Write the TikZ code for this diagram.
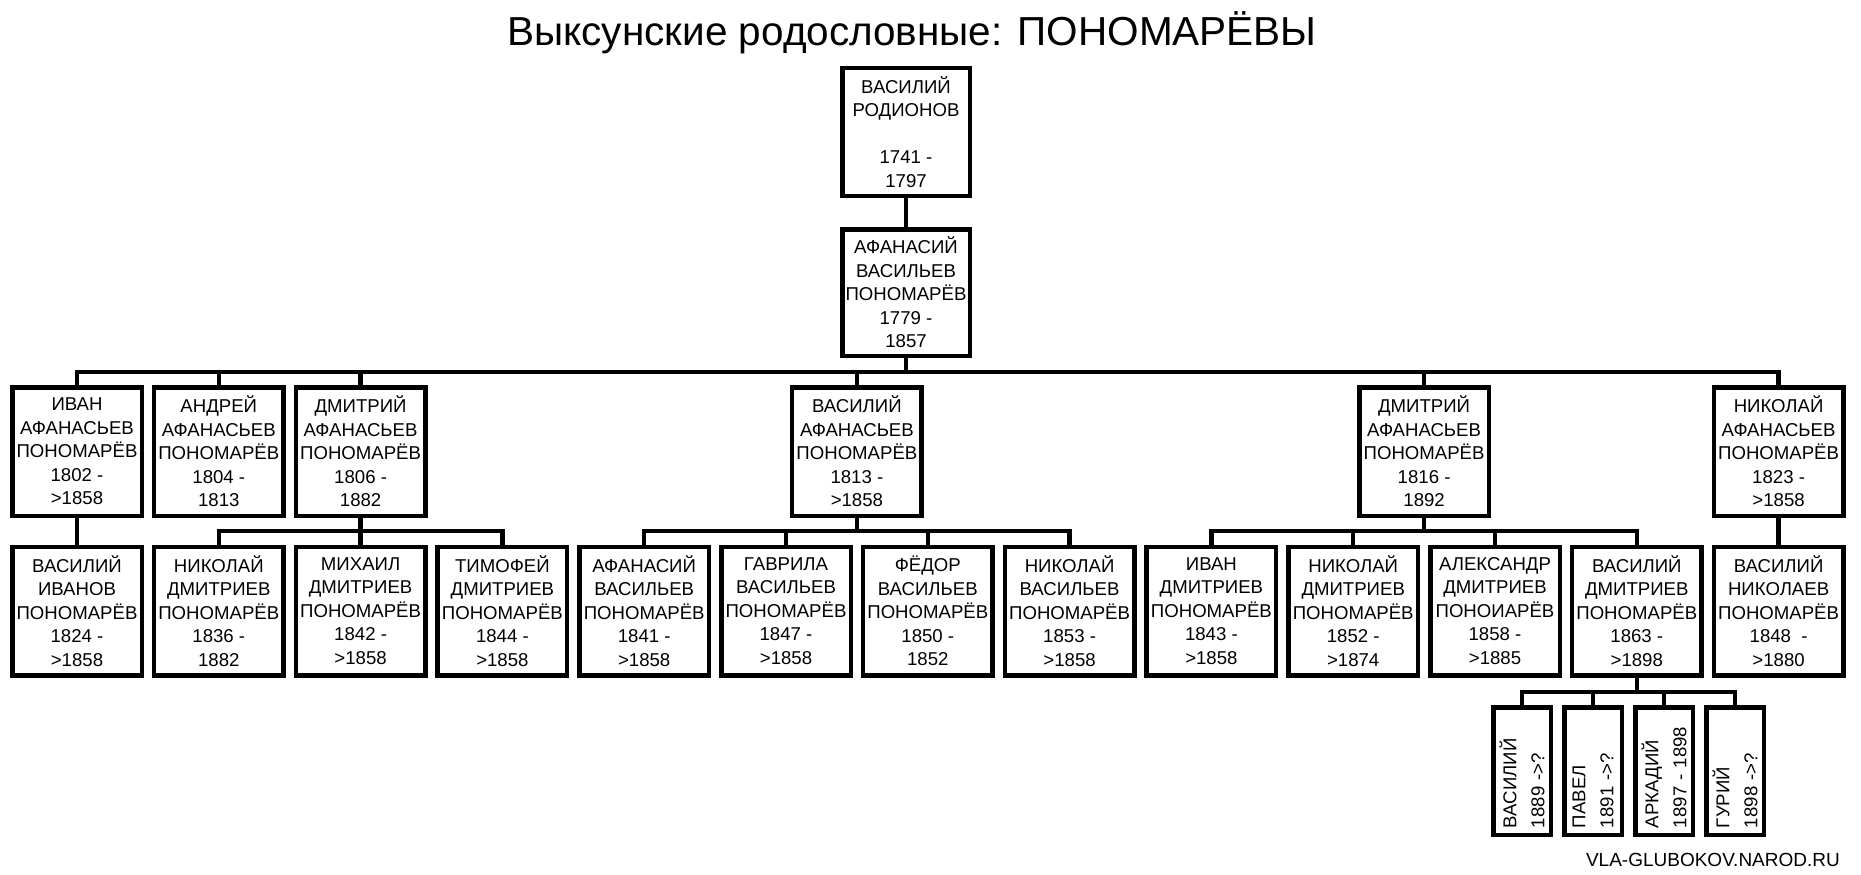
\documentclass[tikz,border=0pt]{standalone}
\usepackage{fontspec}
\setmainfont{Liberation Sans}
\begin{document}
\begin{tikzpicture}[x=1pt,y=-1pt,
  pbox/.style={draw, line width=4.5pt, minimum width=129.5pt, minimum height=128.5pt,
    inner sep=0pt, align=center, font=\fontsize{18.6}{23.5}\selectfont},
  kid/.style={draw, line width=4.5pt, rotate=90, text width=114pt, inner xsep=6.75pt,
    inner ysep=0pt, minimum height=57.5pt, align=left, font=\fontsize{18.6}{28}\selectfont},
  conn/.style={line width=4.5pt, line join=miter}]
\fill[white] (0,0) rectangle (1861,875);
\useasboundingbox (0,0) rectangle (1861,875);

\node[anchor=base, inner sep=0pt, font=\fontsize{40.5}{48}\selectfont] (title) at (912,46) {Выксунские родословные: ПОНОМАРЁВЫ};
\node[anchor=base east, inner sep=0pt, font=\fontsize{19}{22}\selectfont] (wm) at (1840,866) {VLA-GLUBOKOV.NAROD.RU};

% generation 0 and 1
\node[pbox, minimum width=127.5pt, minimum height=127.5pt] (r) at (906,132) {ВАСИЛИЙ\\РОДИОНОВ\\\mbox{}\\1741 -\\1797};
\node[pbox, minimum width=127.5pt, minimum height=126.5pt] (g1) at (906,292.5) {АФАНАСИЙ\\ВАСИЛЬЕВ\\ПОНОМАРЁВ\\1779 -\\1857};

% generation 2
\node[pbox] (a1) at (77,451.5) {ИВАН\\АФАНАСЬЕВ\\ПОНОМАРЁВ\\1802 -\\>1858};
\node[pbox] (a2) at (218.8,451.5) {АНДРЕЙ\\АФАНАСЬЕВ\\ПОНОМАРЁВ\\1804 -\\1813};
\node[pbox] (a3) at (360.6,451.5) {ДМИТРИЙ\\АФАНАСЬЕВ\\ПОНОМАРЁВ\\1806 -\\1882};
\node[pbox] (a4) at (856.9,451.5) {ВАСИЛИЙ\\АФАНАСЬЕВ\\ПОНОМАРЁВ\\1813 -\\>1858};
\node[pbox] (a5) at (1424.1,451.5) {ДМИТРИЙ\\АФАНАСЬЕВ\\ПОНОМАРЁВ\\1816 -\\1892};
\node[pbox] (a6) at (1778.6,451.5) {НИКОЛАЙ\\АФАНАСЬЕВ\\ПОНОМАРЁВ\\1823 -\\>1858};

% generation 3
\node[pbox] (b0) at (77,611) {ВАСИЛИЙ\\ИВАНОВ\\ПОНОМАРЁВ\\1824 -\\>1858};
\node[pbox] (b1) at (218.8,611) {НИКОЛАЙ\\ДМИТРИЕВ\\ПОНОМАРЁВ\\1836 -\\1882};
\node[pbox] (b2) at (360.6,611) {МИХАИЛ\\ДМИТРИЕВ\\ПОНОМАРЁВ\\1842 -\\>1858};
\node[pbox] (b3) at (502.4,611) {ТИМОФЕЙ\\ДМИТРИЕВ\\ПОНОМАРЁВ\\1844 -\\>1858};
\node[pbox] (b4) at (644.2,611) {АФАНАСИЙ\\ВАСИЛЬЕВ\\ПОНОМАРЁВ\\1841 -\\>1858};
\node[pbox] (b5) at (786,611) {ГАВРИЛА\\ВАСИЛЬЕВ\\ПОНОМАРЁВ\\1847 -\\>1858};
\node[pbox] (b6) at (927.8,611) {ФЁДОР\\ВАСИЛЬЕВ\\ПОНОМАРЁВ\\1850 -\\1852};
\node[pbox] (b7) at (1069.6,611) {НИКОЛАЙ\\ВАСИЛЬЕВ\\ПОНОМАРЁВ\\1853 -\\>1858};
\node[pbox] (b8) at (1211.4,611) {ИВАН\\ДМИТРИЕВ\\ПОНОМАРЁВ\\1843 -\\>1858};
\node[pbox] (b9) at (1353.2,611) {НИКОЛАЙ\\ДМИТРИЕВ\\ПОНОМАРЁВ\\1852 -\\>1874};
\node[pbox] (b10) at (1495,611) {АЛЕКСАНДР\\ДМИТРИЕВ\\ПОНОИАРЁВ\\1858 -\\>1885};
\node[pbox] (b11) at (1636.8,611) {ВАСИЛИЙ\\ДМИТРИЕВ\\ПОНОМАРЁВ\\1863 -\\>1898};
\node[pbox] (b12) at (1778.6,611) {ВАСИЛИЙ\\НИКОЛАЕВ\\ПОНОМАРЁВ\\1848 \ -\\>1880};

% generation 4
\node[kid] (d1) at (1522,771) {ВАСИЛИЙ\\1889 ->?};
\node[kid] (d2) at (1593,771) {ПАВЕЛ\\1891 ->?};
\node[kid] (d3) at (1664,771) {АРКАДИЙ\\1897 - 1898};
\node[kid] (d4) at (1735,771) {ГУРИЙ\\1898 ->?};

% connectors
\draw[conn] (r.south) -- (g1.north);
\foreach \c in {a1,a2,a3,a4,a5,a6}
  \draw[conn] (g1.south) -- (g1.south |- 0,372) -| (\c.north);
\draw[conn] (a1.south) -- (b0.north);
\foreach \c in {b1,b2,b3}
  \draw[conn] (a3.south) -- (a3.south |- 0,531) -| (\c.north);
\foreach \c in {b4,b5,b6,b7}
  \draw[conn] (a4.south) -- (a4.south |- 0,531) -| (\c.north);
\foreach \c in {b8,b9,b10,b11}
  \draw[conn] (a5.south) -- (a5.south |- 0,531) -| (\c.north);
\draw[conn] (a6.south) -- (b12.north);
\foreach \c in {d1,d2,d3,d4}
  \draw[conn] (b11.south) -- (b11.south |- 0,692) -| (\c.east);
\end{tikzpicture}
\end{document}
